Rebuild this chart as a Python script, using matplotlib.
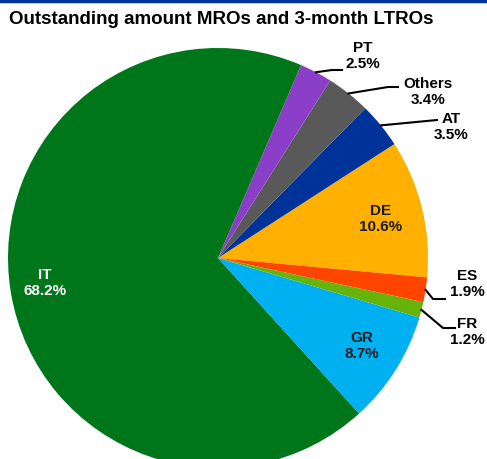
import numpy as np
from matplotlib import pyplot as plt

# slice data, counterclockwise from DE
labels = ['DE', 'AT', 'Others', 'PT', 'IT', 'GR', 'FR', 'ES']
shares = [10.6, 3.5, 3.4, 2.5, 68.2, 8.7, 1.2, 1.9]
colors = ['#FFB000', '#003399', '#595959', '#8B3FC8', '#00761A', '#00B0F0', '#66B30A', '#FF4500']

plt.rcParams['font.family'] = ['Liberation Sans', 'DejaVu Sans']

W, H = 487, 459
fig = plt.figure(figsize=(W / 100, H / 100), dpi=100)
ax = fig.add_axes([0, 0, 1, 1])

cx, cy, R = 218, H - 258, 210
start = -5.3
wedges, _ = ax.pie(shares, colors=colors, startangle=start, counterclock=True,
                   center=(cx, cy), radius=R, frame=True,
                   wedgeprops=dict(linewidth=0))
ax.set_xlim(0, W)
ax.set_ylim(0, H)
ax.axis('off')

# label positions in pixel coords (from top)
inside = {'IT': (45, 283, 'white'), 'GR': (362, 346, '#1a1a1a'), 'DE': (381, 219, '#1a1a1a')}
outside = {'PT': (363, 56, [(332, 70), (342, 70)]),
           'Others': (428, 92, [(388, 87), (398, 87)]),
           'AT': (451, 127, [(437, 120)]),
           'ES': (467, 284, [(433, 299), (445, 299)]),
           'FR': (467, 332, [(443, 328), (455, 328)])}

cum = np.cumsum([0] + shares)
for i, lab in enumerate(labels):
    txt = f'{lab}\n{shares[i]:.1f}%'
    if lab in inside:
        x, y, c = inside[lab]
        ax.text(x, H - y, txt, ha='center', va='center', color=c,
                fontsize=11, fontweight='bold', linespacing=1.1)
    else:
        x, y, pts = outside[lab]
        mid = np.deg2rad(start + (cum[i] + cum[i + 1]) / 2 * 3.6)
        xs = [cx + R * np.cos(mid)] + [p[0] for p in pts]
        ys = [cy + R * np.sin(mid)] + [H - p[1] for p in pts]
        ax.plot(xs, ys, color='black', lw=1.5)
        ax.text(x, H - y, txt, ha='center', va='center', color='black',
                fontsize=11, fontweight='bold', linespacing=1.1)

ax.text(9, H - 20, 'Outstanding amount MROs and 3-month LTROs', ha='left', va='center',
        fontsize=13.5, fontweight='bold', color='black')
ax.axhline(H - 1, color='#0033A0', lw=2.5)

fig.savefig('out.png', dpi=100)
